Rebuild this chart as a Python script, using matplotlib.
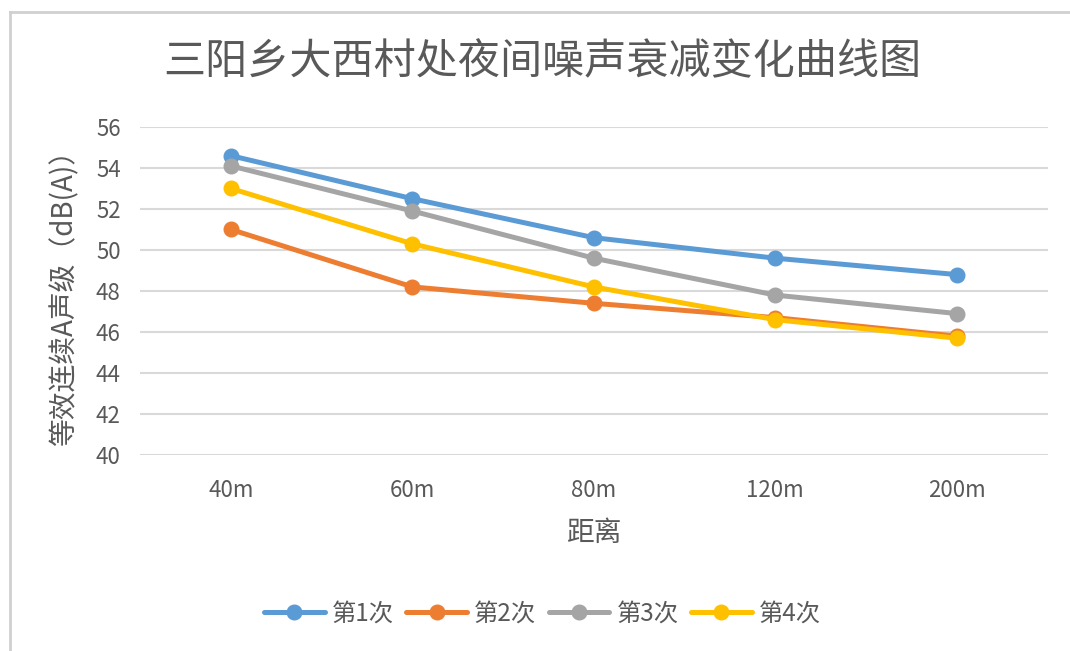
import matplotlib
matplotlib.use("Agg")
import matplotlib.pyplot as plt
from matplotlib.lines import Line2D

plt.rcParams['font.family'] = ['Noto Sans CJK SC', 'DejaVu Sans']

# 测点距离与各次夜间噪声监测值 dB(A)
distances = ['40m', '60m', '80m', '120m', '200m']
run1 = [54.6, 52.5, 50.6, 49.6, 48.8]
run2 = [51.0, 48.2, 47.4, 46.7, 45.8]
run3 = [54.1, 51.9, 49.6, 47.8, 46.9]
run4 = [53.0, 50.3, 48.2, 46.6, 45.7]
series_names = ['第1次', '第2次', '第3次', '第4次']
y_ticks = [40, 42, 44, 46, 48, 50, 52, 54, 56]

colors = ['#5B9BD5', '#ED7D31', '#A5A5A5', '#FFC000']
text_color = '#595959'

fig = plt.figure(figsize=(10.7, 6.51), dpi=100)
ax = fig.add_axes([0.131, 0.301, 0.848, 0.504])

# 外框（左、上）
fig.add_artist(Line2D([0.0093, 0.0093], [0.0, 0.9816], transform=fig.transFigure,
                      color='#d0d0d0', lw=2))
fig.add_artist(Line2D([0.0093, 1.0], [0.9816, 0.9816], transform=fig.transFigure,
                      color='#d0d0d0', lw=2))

x = range(len(distances))
for vals, name, c in zip([run1, run2, run3, run4], series_names, colors):
    ax.plot(x, vals, color=c, lw=3.6, marker='o', markersize=10.5,
            label=name, zorder=3, solid_capstyle='round')

ax.set_xlim(-0.5, len(distances) - 0.5)
ax.set_ylim(40, 56)
ax.set_yticks(y_ticks)
ax.set_xticks(list(x))
ax.set_xticklabels(distances)
ax.grid(axis='y', color='#d9d9d9', lw=1.5)
ax.set_axisbelow(True)
for s in ax.spines.values():
    s.set_visible(False)
ax.tick_params(length=0, labelsize=16, colors=text_color)
ax.tick_params(axis='x', pad=17)
ax.tick_params(axis='y', pad=14)

ax.set_xlabel('距离', fontsize=20, color=text_color, labelpad=12)
ax.set_ylabel('等效连续A声级（dB(A)）', fontsize=20, color=text_color, labelpad=12)

fig.text(0.507, 0.905, '三阳乡大西村处夜间噪声衰减变化曲线图', ha='center', va='center',
         fontsize=30.3, color=text_color)

ax.legend(loc='center', bbox_to_anchor=(0.507, 0.058), bbox_transform=fig.transFigure,
          ncol=4, frameon=False, fontsize=17.5, labelcolor=text_color,
          handlelength=2.5, handletextpad=0.3, columnspacing=0.5)

fig.savefig('out.png', dpi=100, facecolor='white')
